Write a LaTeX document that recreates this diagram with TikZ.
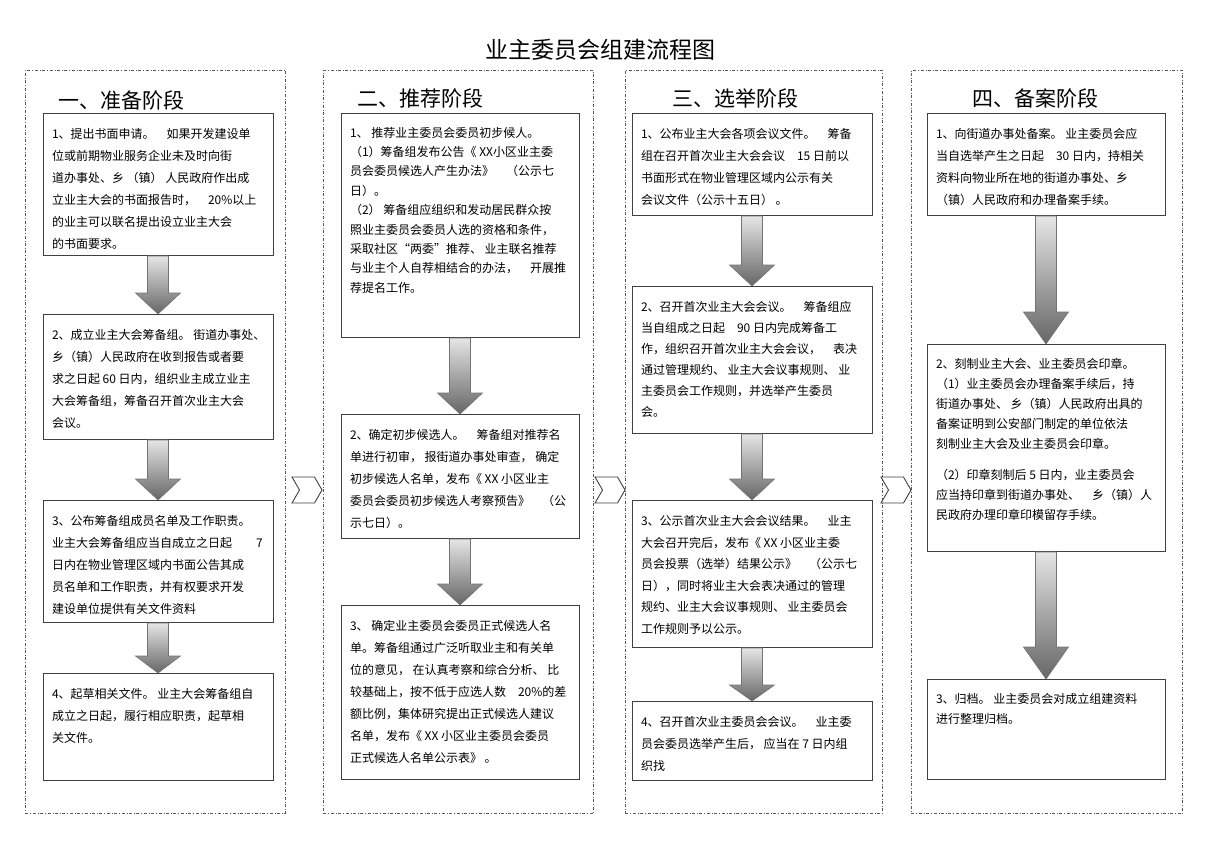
\documentclass[tikz,border=0pt]{standalone}
\usepackage{fontspec}
\setmainfont{Noto Sans CJK SC}
\usepackage{tikz}
\usetikzlibrary{positioning,calc,shapes.symbols}

% fixed-size text block, lines set by hand, top aligned
\newcommand{\boxlines}[4][22pt]{\parbox[c][#3][t]{#2}{%
  \fontsize{12}{#1}\selectfont\begin{tabular}[t]{@{}l@{}}#4\end{tabular}}}

\begin{document}
\begin{tikzpicture}[
  x=1pt, y=-1pt,
  frame/.style={
    draw=black!65,
    dash dot,
    line width=0.8pt,
    minimum width=#1,
    minimum height=743pt,
    inner sep=0pt,
    anchor=north west
  },
  stagehead/.style={font=\fontsize{21}{25}\selectfont, anchor=west, inner sep=0pt},
  stagebox/.style={
    draw=black!75,
    fill=white,
    line width=1pt,
    inner xsep=9pt,
    inner ysep=10pt
  },
  fatarrow/.style={
    draw=black!55,
    line width=0.6pt,
    top color=black!10,
    bottom color=black!60,
    to path={
      let \p1=(\tikztostart), \p2=(\tikztotarget) in
      (\x1-10.5pt,\y1) -- (\x1+10.5pt,\y1) -- (\x1+10.5pt,\y2+#1)
      -- (\x1+22.5pt,\y2+#1) -- (\x1,\y2) -- (\x1-22.5pt,\y2+#1)
      -- (\x1-10.5pt,\y2+#1) -- cycle
    }
  },
  fatarrow/.default=21pt,
  chev/.style={
    signal, signal from=west, signal to=east,
    signal pointer angle=120,
    draw=black!75, fill=white, line width=0.9pt,
    minimum width=30pt, minimum height=26pt, inner sep=0pt
  }
]
  \useasboundingbox (0,0) rectangle (1220,860);

  % title and the four stage frames
  \node[font=\fontsize{23}{28}\selectfont] (title) at (600,50) {业主委员会组建流程图};
  \node[frame=260pt] (f1) at (25,70) {};
  \node[frame=270pt] (f2) at (323,70) {};
  \node[frame=257pt] (f3) at (625,70) {};
  \node[frame=271pt] (f4) at (911,70) {};

  \node[stagehead] (h1) at (58,100) {一、准备阶段};
  \node[stagehead] (h2) at (357,98) {二、推荐阶段};
  \node[stagehead] (h3) at (672,98) {三、选举阶段};
  \node[stagehead] (h4) at (972,98) {四、备案阶段};

  % stage one
  \node[stagebox, anchor=north] (c1a) at (158,113) {\boxlines{212pt}{122pt}{%
    1、提出书面申请。\quad 如果开发建设单\\
    位或前期物业服务企业未及时向街\\
    道办事处、乡 （镇） 人民政府作出成\\
    立业主大会的书面报告时，\quad 20\%以上\\
    的业主可以联名提出设立业主大会\\
    的书面要求。}};
  \node[stagebox, below=58pt of c1a] (c1b) {\boxlines{212pt}{105pt}{%
    2、成立业主大会筹备组。 街道办事处、\\
    乡（镇）人民政府在收到报告或者要\\
    求之日起 60 日内，组织业主成立业主\\
    大会筹备组，筹备召开首次业主大会\\
    会议。}};
  \node[stagebox, below=60pt of c1b] (c1c) {\boxlines{212pt}{102pt}{%
    3、公布筹备组成员名单及工作职责。\\
    业主大会筹备组应当自成立之日起\qquad 7\\
    日内在物业管理区域内书面公告其成\\
    员名单和工作职责，并有权要求开发\\
    建设单位提供有关文件资料}};
  \node[stagebox, below=50pt of c1c] (c1d) {\boxlines{212pt}{87pt}{%
    4、起草相关文件。 业主大会筹备组自\\
    成立之日起，履行相应职责，起草相\\
    关文件。}};

  % stage two
  \node[stagebox, anchor=north] (c2a) at (460,113) {\boxlines[19.4pt]{220pt}{204pt}{%
    1、 推荐业主委员会委员初步候人。\\
    （1）筹备组发布公告《 XX小区业主委\\
    员会委员候选人产生办法》\quad （公示七\\
    日）。\\
    （2） 筹备组应组织和发动居民群众按\\
    照业主委员会委员人选的资格和条件，\\
    采取社区“两委”推荐、 业主联名推荐\\
    与业主个人自荐相结合的办法，\quad 开展推\\
    荐提名工作。}};
  \node[stagebox, below=76pt of c2a] (c2b) {\boxlines{220pt}{104pt}{%
    2、确定初步候选人。\quad 筹备组对推荐名\\
    单进行初审， 报街道办事处审查， 确定\\
    初步候选人名单，发布《 XX 小区业主\\
    委员会委员初步候选人考察预告》\quad （公\\
    示七日）。}};
  \node[stagebox, below=66pt of c2b] (c2c) {\boxlines{220pt}{154pt}{%
    3、 确定业主委员会委员正式候选人名\\
    单。筹备组通过广泛听取业主和有关单\\
    位的意见， 在认真考察和综合分析、 比\\
    较基础上，按不低于应选人数\quad 20\%的差\\
    额比例，集体研究提出正式候选人建议\\
    名单，发布《 XX 小区业主委员会委员\\
    正式候选人名单公示表》 。}};

  % stage three
  \node[stagebox, anchor=north] (c3a) at (752,113) {\boxlines{222pt}{82pt}{%
    1、公布业主大会各项会议文件。\quad 筹备\\
    组在召开首次业主大会会议\quad 15 日前以\\
    书面形式在物业管理区域内公示有关\\
    会议文件（公示十五日） 。}};
  \node[stagebox, below=70pt of c3a] (c3b) {\boxlines[21pt]{222pt}{127pt}{%
    2、召开首次业主大会会议。\quad 筹备组应\\
    当自组成之日起\quad 90 日内完成筹备工\\
    作，组织召开首次业主大会会议，\quad 表决\\
    通过管理规约、 业主大会议事规则、 业\\
    主委员会工作规则，并选举产生委员\\
    会。}};
  \node[stagebox, below=66pt of c3b] (c3c) {\boxlines[21.5pt]{222pt}{127pt}{%
    3、公示首次业主大会会议结果。\quad 业主\\
    大会召开完后，发布《 XX 小区业主委\\
    员会投票（选举）结果公示》\quad （公示七\\
    日），同时将业主大会表决通过的管理\\
    规约、业主大会议事规则、 业主委员会\\
    工作规则予以公示。}};
  \node[stagebox, below=53pt of c3c] (c3d) {\boxlines{222pt}{59pt}{%
    4、召开首次业主委员会会议。\quad 业主委\\
    员会委员选举产生后， 应当在 7 日内组\\
    织找}};

  % stage four
  \node[stagebox, anchor=north] (c4a) at (1046,113) {\boxlines{220pt}{82pt}{%
    1、向街道办事处备案。 业主委员会应\\
    当自选举产生之日起\quad 30 日内，持相关\\
    资料向物业所在地的街道办事处、乡\\
    （镇）人民政府和办理备案手续。}};
  \node[stagebox, below=128pt of c4a] (c4b) {\boxlines[20pt]{220pt}{187pt}{%
    2、刻制业主大会、业主委员会印章。\\
    （1）业主委员会办理备案手续后，持\\
    街道办事处、 乡（镇）人民政府出具的\\
    备案证明到公安部门制定的单位依法\\
    刻制业主大会及业主委员会印章。\\[11pt]
    （2）印章刻制后 5 日内，业主委员会\\
    应当持印章到街道办事处、\quad 乡（镇）人\\
    民政府办理印章印模留存手续。}};
  \node[stagebox, below=127pt of c4b] (c4c) {\boxlines[20pt]{220pt}{80pt}{%
    3、归档。 业主委员会对成立组建资料\\
    进行整理归档。}};

  % arrows inside each stage
  \path[fatarrow] (c1a.south) to (c1b.north);
  \path[fatarrow] (c1b.south) to (c1c.north);
  \path[fatarrow=17pt] (c1c.south) to (c1d.north);
  \path[fatarrow] (c2a.south) to (c2b.north);
  \path[fatarrow] (c2b.south) to (c2c.north);
  \path[fatarrow] (c3a.south) to (c3b.north);
  \path[fatarrow] (c3b.south) to (c3c.north);
  \path[fatarrow=16pt] (c3c.south) to (c3d.north);
  \path[fatarrow=32pt] (c4a.south) to (c4b.north);
  \path[fatarrow=32pt] (c4b.south) to (c4c.north);

  % chevrons between the stages
  \node[chev] (g12) at (307,490) {};
  \node[chev] (g23) at (610,490) {};
  \node[chev] (g34) at (896,490) {};
\end{tikzpicture}
\end{document}
